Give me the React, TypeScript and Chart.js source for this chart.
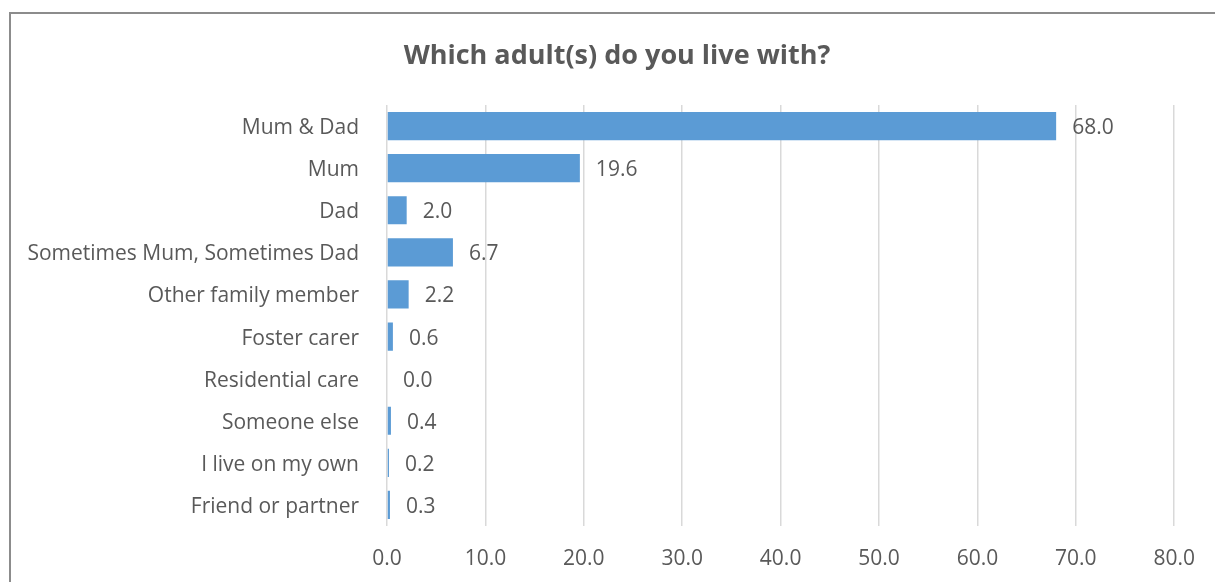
import React, { useEffect, useRef } from "react";
import { Chart, registerables } from "chart.js";

Chart.register(...registerables);

const categories = [
  "Mum & Dad",
  "Mum",
  "Dad",
  "Sometimes Mum, Sometimes Dad",
  "Other family member",
  "Foster carer",
  "Residential care",
  "Someone else",
  "I live on my own",
  "Friend or partner",
];
const values = [68.0, 19.6, 2.0, 6.7, 2.2, 0.6, 0.0, 0.4, 0.2, 0.3];
const xTicks = [0, 10, 20, 30, 40, 50, 60, 70, 80];
const titleText = "Which adult(s) do you live with?";

const TEXT = "#595959";
const FONT = "'Open Sans', 'Liberation Sans', sans-serif";

const labelPlugin = {
  id: "valueLabels",
  afterDatasetsDraw(chart: any) {
    const ctx = chart.ctx;
    const meta = chart.getDatasetMeta(0);
    ctx.save();
    ctx.fillStyle = TEXT;
    ctx.font = `21px ${FONT}`;
    ctx.textAlign = "left";
    ctx.textBaseline = "middle";
    meta.data.forEach((el: any, i: number) => {
      ctx.fillText(values[i].toFixed(1), el.x + 16, el.y + 2);
    });
    ctx.restore();
  },
};

const titlePlugin = {
  id: "fixedTitle",
  afterDraw(chart: any) {
    const ctx = chart.ctx;
    ctx.save();
    ctx.fillStyle = TEXT;
    ctx.font = `bold 27px ${FONT}`;
    ctx.textAlign = "center";
    ctx.textBaseline = "middle";
    ctx.fillText(titleText, 617, 56);
    ctx.restore();
  },
};

export default function App() {
  const ref = useRef<HTMLCanvasElement>(null);
  useEffect(() => {
    document.body.style.margin = "0";
    const chart = new Chart(ref.current!, {
      type: "bar",
      data: {
        labels: categories,
        datasets: [
          {
            data: values,
            backgroundColor: "#5B9BD5",
            borderWidth: 0,
            categoryPercentage: 1,
            barPercentage: 0.67,
          },
        ],
      },
      options: {
        indexAxis: "y",
        animation: false,
        responsive: false,
        layout: { padding: { left: 0, right: 39, top: 105, bottom: 12 } },
        plugins: {
          legend: { display: false },
          tooltip: { enabled: false },
          title: { display: false },
        },
        scales: {
          x: {
            min: 0,
            max: 80,
            afterBuildTicks: (scale: any) => {
              scale.ticks = xTicks.map((v) => ({ value: v }));
            },
            afterFit: (scale: any) => {
              scale.height = 44;
            },
            ticks: {
              color: TEXT,
              font: { family: FONT, size: 21 },
              padding: 20,
              callback: (v: any) => Number(v).toFixed(1),
            },
            grid: { color: "#D9D9D9", lineWidth: 1.5, drawTicks: false },
            border: { display: false },
          },
          y: {
            afterFit: (scale: any) => {
              scale.width = 387;
            },
            ticks: {
              color: TEXT,
              font: { family: FONT, size: 21 },
              padding: 28,
              labelOffset: 2,
            },
            grid: { display: false, drawTicks: false },
            border: { display: false },
          },
        },
      },
      plugins: [labelPlugin, titlePlugin],
    });
    return () => chart.destroy();
  }, []);
  return (
    <div style={{ position: "relative", width: 1215, height: 582, overflow: "hidden", background: "#fff" }}>
      <div
        style={{
          position: "absolute",
          left: 9,
          top: 12,
          width: 1230,
          height: 600,
          border: "2px solid #8c8c8c",
          boxSizing: "border-box",
        }}
      />
      <canvas ref={ref} width={1215} height={582} style={{ position: "absolute", left: 0, top: 0 }} />
    </div>
  );
}
